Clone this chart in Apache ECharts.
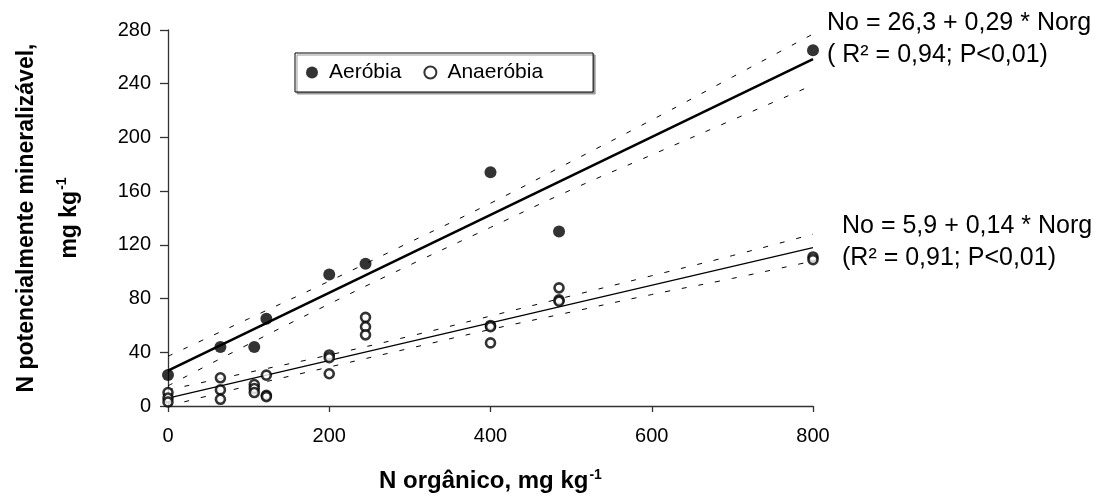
<!DOCTYPE html>
<html>
<head>
<meta charset="utf-8">
<script src="https://cdn.jsdelivr.net/npm/echarts@6/dist/echarts.min.js"></script>
<style>
  html, body { margin: 0; padding: 0; background: #fff; }
  #chart { width: 1105px; height: 500px; }
</style>
</head>
<body>
<div id="chart"></div>
<script>
// N orgânico (x) vs N potencialmente mineralizável (y)
var aerobiaX = [0, 65, 107, 122, 200, 245, 400, 485, 800];
var aerobiaY = [23, 44, 44, 65, 98, 106, 174, 130, 265];

var anaerobiaX = [0, 0, 0, 65, 65, 65, 107, 107, 107, 122, 122, 122, 200, 200, 200, 245, 245, 245, 400, 400, 400, 485, 485, 485, 800, 800];
var anaerobiaY = [10, 6, 3, 21, 12, 5, 16, 13, 10, 23, 8, 7, 38, 36, 24, 66, 59, 53, 60, 59, 47, 88, 79, 78, 111, 109];

// regression lines (read at ends) and confidence bands
var fitX = [0, 800];
var fitAerobia = [26.3, 258.3];
var fitAnaerobia = [5.9, 117.9];

var bandX = [0, 100, 200, 300, 400, 500, 600, 700, 800];
var aerUpper = [37, 65, 93, 122, 151, 182, 213, 245, 277];
var aerLower = [15, 46, 76, 105, 133, 161, 187, 213, 239];
var anaUpper = [12, 25, 38, 52, 67, 82, 97, 112, 128];
var anaLower = [0, 15, 29, 43, 57, 70, 83, 95, 108];

var xTicks = [0, 200, 400, 600, 800];
var yTicks = [0, 40, 80, 120, 160, 200, 240, 280];

function pairs(xs, ys) {
  return xs.map(function (x, i) { return [x, ys[i]]; });
}

var font = 'Liberation Sans, Arial, sans-serif';

function bandSeries(ys) {
  return {
    type: 'line',
    data: pairs(bandX, ys),
    smooth: true,
    symbol: 'none',
    silent: true,
    lineStyle: { color: '#000', width: 1, type: [5, 12] },
    z: 1
  };
}

var eqStyle = { fontSize: 25, fontFamily: font, fill: '#000' };

var chart = echarts.init(document.getElementById('chart'));
chart.setOption({
  animation: false,
  textStyle: { fontFamily: font, color: '#000' },
  grid: { left: 168, right: 292, top: 30, bottom: 94 },
  legend: {
    data: ['Aeróbia', 'Anaeróbia'],
    left: 295,
    top: 53,
    padding: [9, 50, 9, 11],
    itemGap: 22,
    itemWidth: 12,
    itemHeight: 12,
    borderColor: '#000',
    borderWidth: 1,
    backgroundColor: '#fff',
    shadowColor: '#999',
    shadowOffsetX: 2,
    shadowOffsetY: 2,
    textStyle: { fontSize: 21, fontFamily: font, color: '#000', padding: [0, 0, 0, 6] }
  },
  xAxis: {
    type: 'value',
    min: 0,
    max: 800,
    interval: 200,
    splitLine: { show: false },
    axisLine: { onZero: false, lineStyle: { color: '#333', width: 1.3 } },
    axisTick: { length: 6, lineStyle: { color: '#333', width: 1.3 } },
    axisLabel: {
      fontSize: 20, color: '#000', margin: 20,
      formatter: function (v) { return xTicks.indexOf(v) >= 0 ? String(v) : ''; }
    },
    name: '{b|N orgânico, mg kg}{sup|-1}',
    nameLocation: 'middle',
    nameGap: 62,
    nameTextStyle: {
      rich: {
        b: { fontSize: 24, fontWeight: 'bold', fontFamily: font, color: '#000' },
        sup: { fontSize: 14, fontWeight: 'bold', fontFamily: font, color: '#000', verticalAlign: 'top', padding: [0, 0, 12, 1] }
      }
    }
  },
  yAxis: {
    type: 'value',
    min: 0,
    max: 280,
    interval: 40,
    splitLine: { show: false },
    axisLine: { show: true, lineStyle: { color: '#333', width: 1.3 } },
    axisTick: { show: true, length: 8, lineStyle: { color: '#333', width: 1.3 } },
    axisLabel: {
      fontSize: 20, color: '#000', margin: 17,
      formatter: function (v) { return yTicks.indexOf(v) >= 0 ? String(v) : ''; }
    },
    name: '{b|N potencialmente mineralizável,}\n{b|mg kg}{sup|-1}',
    nameLocation: 'middle',
    nameRotate: 90,
    nameGap: 77,
    nameTextStyle: {
      align: 'center',
      rich: {
        b: { fontSize: 23, fontWeight: 'bold', fontFamily: font, color: '#000', lineHeight: 43, align: 'center' },
        sup: { fontSize: 14, fontWeight: 'bold', fontFamily: font, color: '#000', lineHeight: 43, padding: [0, 0, 14, 1] }
      }
    }
  },
  series: [
    bandSeries(aerUpper),
    bandSeries(aerLower),
    bandSeries(anaUpper),
    bandSeries(anaLower),
    {
      type: 'line',
      data: pairs(fitX, fitAerobia),
      symbol: 'none',
      silent: true,
      lineStyle: { color: '#000', width: 2.6 },
      z: 2
    },
    {
      type: 'line',
      data: pairs(fitX, fitAnaerobia),
      symbol: 'none',
      silent: true,
      lineStyle: { color: '#000', width: 1.2 },
      z: 2
    },
    {
      name: 'Aeróbia',
      type: 'scatter',
      data: pairs(aerobiaX, aerobiaY),
      symbol: 'circle',
      symbolSize: 12,
      itemStyle: { color: '#000' },
      z: 5
    },
    {
      name: 'Anaeróbia',
      type: 'scatter',
      data: pairs(anaerobiaX, anaerobiaY),
      symbol: 'circle',
      symbolSize: 9,
      itemStyle: { color: '#fff', borderColor: '#000', borderWidth: 2.6 },
      z: 5
    }
  ],
  graphic: [
    { type: 'text', left: 827, top: 11, style: Object.assign({ text: 'No = 26,3 + 0,29 * Norg' }, eqStyle) },
    { type: 'text', left: 827, top: 43, style: Object.assign({ text: '( R² = 0,94; P<0,01)' }, eqStyle) },
    { type: 'text', left: 842, top: 214, style: Object.assign({ text: 'No = 5,9 + 0,14 * Norg' }, eqStyle) },
    { type: 'text', left: 842, top: 246, style: Object.assign({ text: '(R² = 0,91; P<0,01)' }, eqStyle) }
  ]
});
</script>
</body>
</html>
